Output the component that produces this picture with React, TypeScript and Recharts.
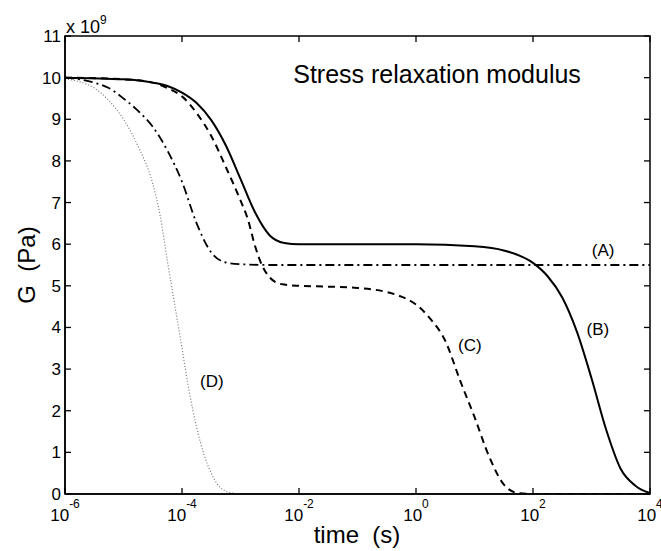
import { LineChart, Line, XAxis, YAxis, ReferenceDot } from "recharts";

// log10(time in s) samples and G (in units of 1e9 Pa)
const aLogT = [-6, -5.5, -5.25, -5, -4.75, -4.5, -4.25, -4, -3.75, -3.5, -3.25, -3, -2.5, -1, 0, 1, 2, 3, 4];
const aG = [10, 9.88, 9.75, 9.5, 9.2, 8.82, 8.25, 7.5, 6.5, 5.8, 5.56, 5.52, 5.5, 5.5, 5.5, 5.5, 5.5, 5.5, 5.5];

const bLogT = [-6, -5, -4.5, -4.25, -4, -3.75, -3.5, -3.25, -3, -2.75, -2.5, -2.25, -2, -1, 0, 1, 1.5, 2, 2.25, 2.5, 2.75, 3, 3.25, 3.5, 3.75, 4];
const bG = [10, 9.96, 9.88, 9.8, 9.64, 9.39, 8.98, 8.37, 7.57, 6.76, 6.21, 6.03, 6.0, 6.0, 6.0, 5.95, 5.85, 5.55, 5.23, 4.72, 3.9, 2.78, 1.55, 0.6, 0.2, 0.02];

const cLogT = [-6, -5, -4.5, -4.25, -4, -3.75, -3.5, -3.25, -3, -2.875, -2.75, -2.625, -2.5, -2.375, -2.25, -2, -1.5, -1, -0.5, -0.25, 0, 0.25, 0.5, 0.75, 1, 1.25, 1.5, 1.75, 2, 3, 4];
const cG = [10, 9.96, 9.88, 9.75, 9.55, 9.15, 8.6, 7.85, 7.05, 6.6, 5.95, 5.47, 5.2, 5.07, 5.03, 5.0, 4.98, 4.95, 4.85, 4.74, 4.55, 4.2, 3.68, 2.74, 1.85, 0.9, 0.23, 0.02, 0, 0, 0];

const dLogT = [-6, -5.75, -5.5, -5.25, -5, -4.75, -4.5, -4.375, -4.25, -4.125, -4, -3.875, -3.75, -3.625, -3.5, -3.375, -3.25, -3.125, -3, -2, 0, 2, 4];
const dG = [9.97, 9.9, 9.75, 9.45, 9.0, 8.35, 7.45, 6.7, 5.6, 4.55, 3.5, 2.45, 1.6, 0.95, 0.5, 0.2, 0.07, 0.02, 0, 0, 0, 0, 0];

const xTicks = [-6, -4, -2, 0, 2, 4];
const yTicks = [0, 1, 2, 3, 4, 5, 6, 7, 8, 9, 10, 11];
const xMin = -6;
const xMax = 4;
const yMin = 0;
const yMax = 11;

const curveLabels = [
  { text: "(A)", x: 3.2, y: 5.87 },
  { text: "(B)", x: 3.11, y: 3.97 },
  { text: "(C)", x: 0.92, y: 3.58 },
  { text: "(D)", x: -3.49, y: 2.72 },
];

// chart box
const W = 661;
const H = 551;
const M = { top: 36, right: 11, bottom: 0, left: 0 };
const yAxisW = 65;
const xAxisH = 57;
const plotL = M.left + yAxisW;
const plotR = W - M.right;
const plotT = M.top;
const plotB = H - M.bottom - xAxisH;

const toRows = (t: number[], g: number[]) => t.map((v, i) => ({ t: v, g: g[i] }));

const font = "'Liberation Sans', Arial, Helvetica, sans-serif";

const XTick = (props: any) => {
  const { x, y, payload } = props;
  return (
    <g>
      <line x1={x} y1={y} x2={x} y2={y - 6} stroke="#000" strokeWidth={1.3} />
      <text x={x} y={y + 27} textAnchor="middle" fontSize={17} fontFamily={font} fill="#000">
        10
        <tspan dy={-13} fontSize={12}>{payload.value}</tspan>
      </text>
    </g>
  );
};

const YTick = (props: any) => {
  const { x, y, payload } = props;
  return (
    <g>
      <line x1={x} y1={y} x2={x + 6} y2={y} stroke="#000" strokeWidth={1.3} />
      <text x={x - 4} y={y + 6} textAnchor="end" fontSize={17} fontFamily={font} fill="#000">
        {payload.value}
      </text>
    </g>
  );
};

const textLabel = (text: string, size: number) => (p: any) => {
  const { viewBox } = p;
  return (
    <text x={viewBox.x} y={viewBox.y + size * 0.35} textAnchor="middle" fontSize={size} fontFamily={font} fill="#000">
      {text}
    </text>
  );
};

const px = (v: number) => plotL + ((v - xMin) / (xMax - xMin)) * (plotR - plotL);
const py = (v: number) => plotB - ((v - yMin) / (yMax - yMin)) * (plotB - plotT);

export default function App() {
  return (
    <div style={{ position: "absolute", left: 0, top: 0, width: W, height: H, background: "#fff" }}>
      <LineChart width={W} height={H} margin={M}>
        <XAxis
          dataKey="t"
          type="number"
          domain={[xMin, xMax]}
          ticks={xTicks}
          allowDataOverflow
          height={xAxisH}
          tickSize={0}
          tickMargin={0}
          tick={<XTick />}
          axisLine={{ stroke: "#000", strokeWidth: 1.5 }}
        />
        <YAxis
          type="number"
          domain={[yMin, yMax]}
          ticks={yTicks}
          allowDataOverflow
          width={yAxisW}
          tickSize={0}
          tickMargin={0}
          tick={<YTick />}
          axisLine={{ stroke: "#000", strokeWidth: 1.5 }}
        />
        <Line data={toRows(dLogT, dG)} dataKey="g" type="monotone" stroke="#777" strokeWidth={1.2} strokeDasharray="1 2" dot={false} isAnimationActive={false} />
        <Line data={toRows(aLogT, aG)} dataKey="g" type="monotone" stroke="#000" strokeWidth={1.8} strokeDasharray="9 4 2 4" dot={false} isAnimationActive={false} />
        <Line data={toRows(cLogT, cG)} dataKey="g" type="monotone" stroke="#000" strokeWidth={2} strokeDasharray="7 5" dot={false} isAnimationActive={false} />
        <Line data={toRows(bLogT, bG)} dataKey="g" type="monotone" stroke="#000" strokeWidth={2} dot={false} isAnimationActive={false} />
        {curveLabels.map((c) => (
          <ReferenceDot key={c.text} x={c.x} y={c.y} r={0} stroke="none" label={textLabel(c.text, 17)} />
        ))}
        <ReferenceDot x={0.36} y={10.07} r={0} stroke="none" label={textLabel("Stress relaxation modulus", 25)} />
      </LineChart>
      <svg width={W} height={H} style={{ position: "absolute", left: 0, top: 0, pointerEvents: "none" }}>
        {/* box frame with mirrored inward ticks on the top and right edges */}
        <rect x={plotL} y={plotT} width={plotR - plotL} height={plotB - plotT} fill="none" stroke="#000" strokeWidth={1.5} />
        {xTicks.map((v) => (
          <line key={"tx" + v} x1={px(v)} y1={plotT} x2={px(v)} y2={plotT + 6} stroke="#000" strokeWidth={1.3} />
        ))}
        {yTicks.map((v) => (
          <line key={"ty" + v} x1={plotR} y1={py(v)} x2={plotR - 6} y2={py(v)} stroke="#000" strokeWidth={1.3} />
        ))}
        <text x={66} y={33} fontSize={18} fontFamily={font} fill="#000">
          x 10
          <tspan dy={-9} fontSize={12}>9</tspan>
        </text>
        <text x={357} y={543} textAnchor="middle" fontSize={24} fontFamily={font} fill="#000">
          {"time\u00a0\u00a0(s)"}
        </text>
        <text x={35} y={265} textAnchor="middle" fontSize={24} fontFamily={font} fill="#000" transform="rotate(-90 35 265)">
          {"G\u00a0\u00a0(Pa)"}
        </text>
      </svg>
    </div>
  );
}
